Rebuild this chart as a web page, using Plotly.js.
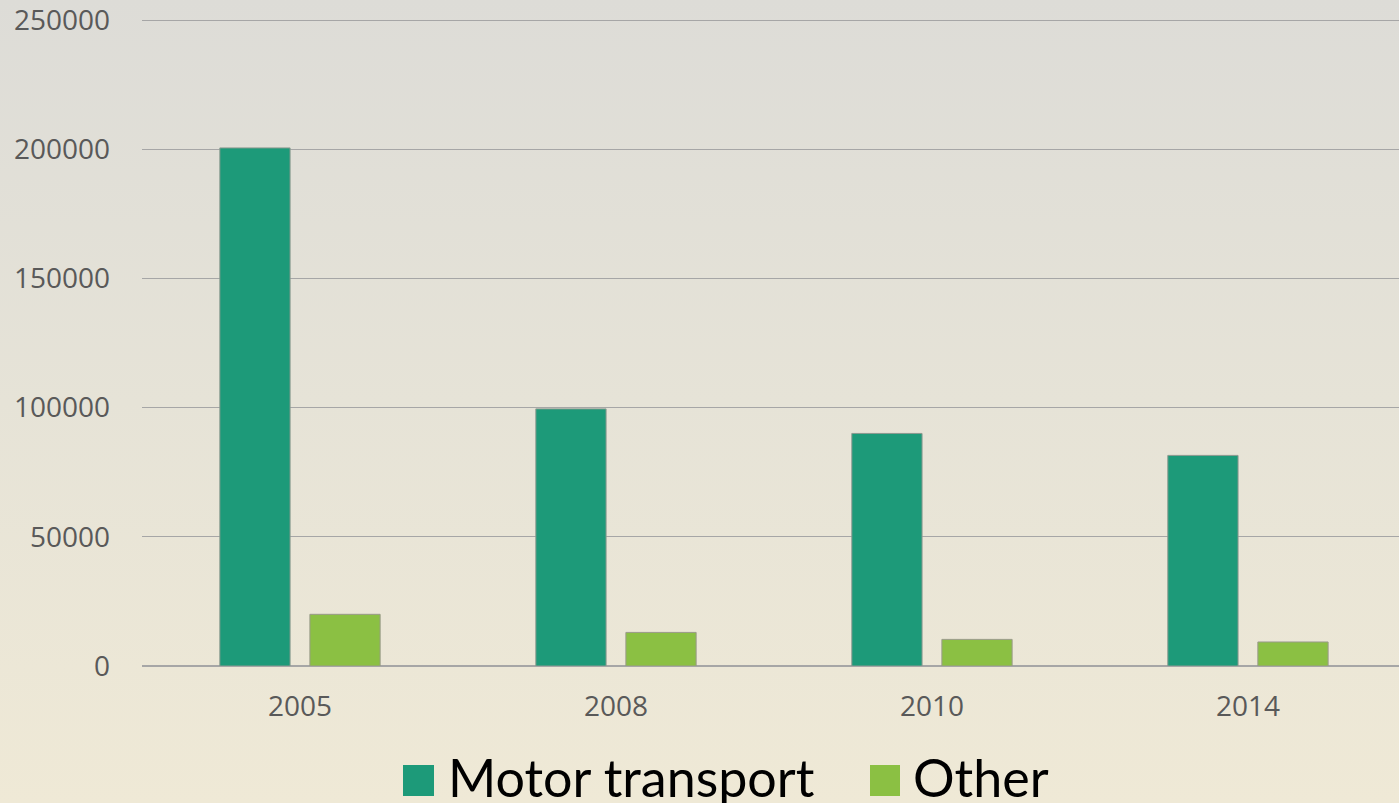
<!DOCTYPE html>
<html>
<head>
<meta charset="utf-8">
<script src="https://cdn.plot.ly/plotly-3.0.1.min.js"></script>
<style>
html,body{margin:0;padding:0;width:1399px;height:803px;overflow:hidden;
background:linear-gradient(to bottom,#dddcd7 0%,#e6e3d7 50%,#efe9d6 100%);}
#chart{width:1399px;height:803px;}
</style>
</head>
<body>
<div id="chart"></div>
<script>
const years = ["2005", "2008", "2010", "2014"];
const motorTransport = [200500, 99500, 90000, 81500];
const other = [20000, 13000, 10300, 9300];
const seriesNames = ["Motor transport", "Other"];
const yTicks = [0, 50000, 100000, 150000, 200000, 250000];

const colMotor = "#1d9a79";
const colOther = "#8bc043";

const traces = [
  {type: "bar", x: years, y: motorTransport, name: seriesNames[0],
   marker: {color: colMotor, line: {color: "#8c9a90", width: 1}}, showlegend: false},
  {type: "bar", x: years, y: other, name: seriesNames[1],
   marker: {color: colOther, line: {color: "#9a9a8a", width: 1}}, showlegend: false}
];

const W = 1257, H = 648, L = 142, T = 18;
const px = v => (v - L) / W;
const py = v => (T + H - v) / H;

const layout = {
  width: 1399, height: 803,
  paper_bgcolor: "rgba(0,0,0,0)", plot_bgcolor: "rgba(0,0,0,0)",
  margin: {l: 142, r: 0, t: 18, b: 137},
  barmode: "group", bargap: 0.43, bargroupgap: 0.22,
  font: {family: "Open Sans, sans-serif", color: "#595959", size: 28},
  xaxis: {type: "category", range: [-0.5, 3.478], showgrid: false, zeroline: false,
          showline: false, ticks: "", ticklabelstandoff: 21,
          tickfont: {size: 28, color: "#595959"}},
  yaxis: {range: [0, 250000 * 648 / 646], tickvals: yTicks, ticktext: yTicks.map(String),
          showgrid: true, gridcolor: "#a6a6a6", gridwidth: 1,
          zeroline: true, zerolinecolor: "#a6a6a6", zerolinewidth: 1.5,
          showline: false, ticks: "", ticklabelstandoff: 31, ticklabeloverflow: "allow",
          tickfont: {size: 28, color: "#595959"}},
  shapes: [
    {type: "rect", xref: "paper", yref: "paper", x0: px(403), x1: px(434), y0: py(796), y1: py(765),
     fillcolor: colMotor, line: {width: 0}},
    {type: "rect", xref: "paper", yref: "paper", x0: px(870), x1: px(900), y0: py(796), y1: py(765),
     fillcolor: colOther, line: {width: 0}}
  ],
  annotations: [
    {xref: "paper", yref: "paper", x: px(446), y: py(777), xanchor: "left", yanchor: "middle",
     text: seriesNames[0], showarrow: false, font: {family: "Lato, sans-serif", size: 52, color: "#000"}},
    {xref: "paper", yref: "paper", x: px(911), y: py(777), xanchor: "left", yanchor: "middle",
     text: seriesNames[1], showarrow: false, font: {family: "Lato, sans-serif", size: 52, color: "#000"}}
  ]
};

Plotly.newPlot("chart", traces, layout, {displayModeBar: false, staticPlot: true});
</script>
</body>
</html>
